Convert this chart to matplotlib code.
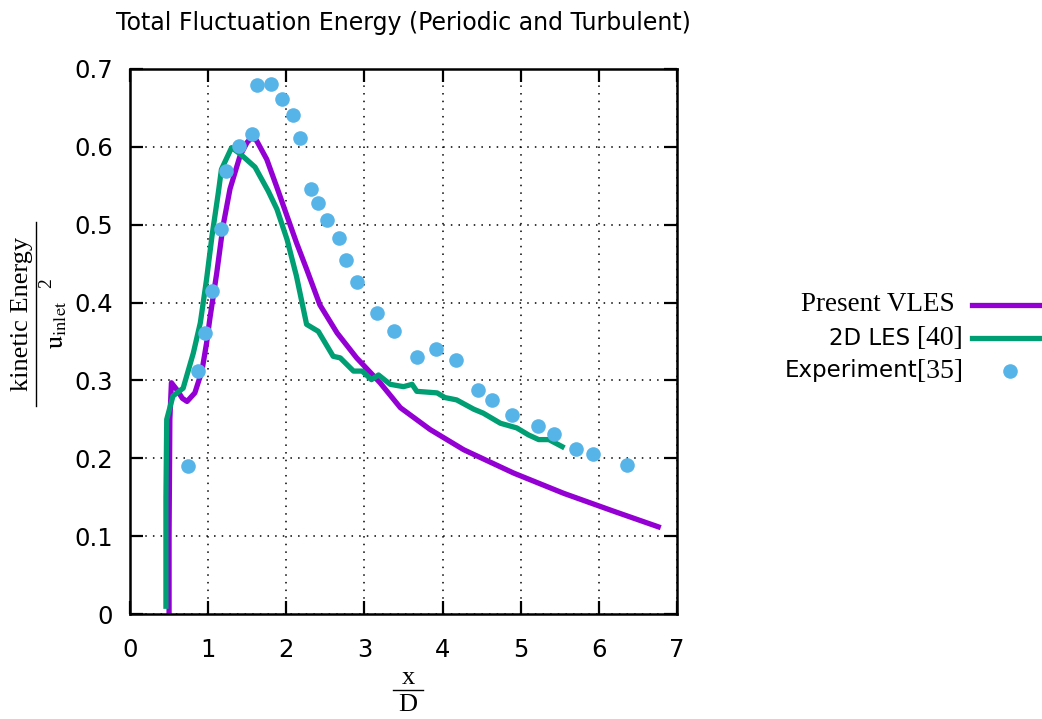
import matplotlib
matplotlib.use("Agg")
import matplotlib.pyplot as plt
from matplotlib.lines import Line2D
import numpy as np

plt.rcParams["mathtext.fontset"] = "stix"

# Present VLES
vles_x = [0.50, 0.50, 0.51, 0.53, 0.60, 0.67, 0.73, 0.83, 0.92, 0.98, 1.02, 1.11, 1.19,
          1.28, 1.41, 1.50, 1.56, 1.62, 1.75, 1.88, 2.01, 2.13, 2.26, 2.43, 2.65, 2.90,
          3.20, 3.46, 3.84, 4.27, 4.91, 5.55, 6.19, 6.76]
vles_y = [0.0, 0.10, 0.25, 0.297, 0.288, 0.277, 0.273, 0.284, 0.312, 0.348, 0.378, 0.438, 0.498,
          0.546, 0.589, 0.606, 0.612, 0.608, 0.584, 0.548, 0.511, 0.477, 0.443, 0.397, 0.361, 0.329,
          0.297, 0.265, 0.237, 0.211, 0.181, 0.155, 0.132, 0.112]

# 2D LES [40]
les_x = [0.46, 0.46, 0.47, 0.55, 0.68, 0.81, 0.90, 0.98, 1.05, 1.13, 1.17, 1.30, 1.41,
         1.60, 1.77, 1.88, 2.01, 2.13, 2.26, 2.41, 2.60, 2.69, 2.86, 2.97, 3.09, 3.18,
         3.33, 3.50, 3.61, 3.67, 3.93, 4.03, 4.18, 4.40, 4.52, 4.74, 4.95, 5.10, 5.23,
         5.36, 5.53]
les_y = [0.01, 0.15, 0.25, 0.28, 0.29, 0.335, 0.374, 0.43, 0.486, 0.541, 0.571, 0.599, 0.591,
         0.574, 0.543, 0.520, 0.481, 0.434, 0.372, 0.363, 0.331, 0.329, 0.312, 0.312, 0.301, 0.307,
         0.295, 0.292, 0.295, 0.286, 0.284, 0.278, 0.275, 0.263, 0.258, 0.245, 0.239, 0.230, 0.224,
         0.224, 0.215]

# Experiment [35]
exp_x = [0.74, 0.87, 0.96, 1.05, 1.17, 1.23, 1.40, 1.56, 1.62, 1.80, 1.94, 2.09, 2.18,
         2.31, 2.40, 2.52, 2.68, 2.77, 2.90, 3.16, 3.38, 3.67, 3.91, 4.17, 4.45, 4.63,
         4.89, 5.22, 5.43, 5.71, 5.93, 6.36]
exp_y = [0.190, 0.312, 0.361, 0.415, 0.494, 0.569, 0.601, 0.616, 0.680, 0.681, 0.661, 0.641, 0.612,
         0.546, 0.528, 0.506, 0.483, 0.455, 0.426, 0.387, 0.363, 0.330, 0.341, 0.326, 0.288, 0.275,
         0.255, 0.241, 0.231, 0.212, 0.206, 0.192]

x_ticks = [0, 1, 2, 3, 4, 5, 6, 7]
y_ticks = [0, 0.1, 0.2, 0.3, 0.4, 0.5, 0.6, 0.7]
y_tick_labels = ["0", "0.1", "0.2", "0.3", "0.4", "0.5", "0.6", "0.7"]

purple = "#9400d3"
green = "#009e73"
blue = "#56b4e9"
lw = 3.8
ms = 10.5

W, H = 1042, 719
fig = plt.figure(figsize=(W / 100, H / 100), dpi=100)
ax = fig.add_axes([130 / W, 1 - 614 / H, (677 - 130) / W, (614 - 69) / H])

ax.plot(vles_x, vles_y, color=purple, lw=lw, solid_joinstyle="round")
ax.plot(les_x, les_y, color=green, lw=lw, solid_joinstyle="round")
ax.plot(exp_x, exp_y, "o", color=blue, ms=ms, mec="none")

ax.set_xlim(0, 7)
ax.set_ylim(0, 0.7)
ax.set_xticks(x_ticks)
ax.set_yticks(y_ticks)
ax.set_yticklabels(y_tick_labels)
ax.grid(True, color="black", linestyle=(0, (1, 4)), linewidth=1.1)
ax.tick_params(direction="in", length=9.5, width=1.6, top=True, right=True,
               labelsize=17.5)
ax.tick_params(axis="x", pad=17)
ax.tick_params(axis="y", pad=12)
for s in ax.spines.values():
    s.set_linewidth(1.8)

ax.set_title("Total Fluctuation Energy (Periodic and Turbulent)", fontsize=17, pad=28)

serif = "Liberation Serif"

# x label: x / D
cx = 408 / W
fig.text(cx, 1 - 678 / H, "x", family=serif, fontsize=19, ha="center", va="center")
fig.add_artist(Line2D([cx - 15 / W, cx + 15 / W], [1 - 690 / H, 1 - 690 / H], color="black", lw=1))
fig.text(cx, 1 - 705 / H, "D", family=serif, fontsize=19, ha="center", va="center")

# y label: kinetic Energy / u_inlet^2
fy = 1 - 314 / H
fig.add_artist(Line2D([36 / W, 36 / W], [fy - 92 / H, fy + 92 / H], color="black", lw=1))
fig.text(22 / W, fy, "kinetic Energy", family=serif, fontsize=19, rotation=90,
         ha="center", va="center")
fig.text(56 / W, 1 - 325 / H, r"$\mathrm{u}_{\mathrm{inlet}}$", fontsize=19, rotation=90,
         ha="center", va="center")
fig.text(47 / W, 1 - 283 / H, "2", family=serif, fontsize=14, rotation=90,
         ha="center", va="center")

# legend, text right-aligned with the sample after it
rx = 963 / W
renderer = fig.canvas.get_renderer()
fig.text(955 / W, 1 - 305 / H, "Present VLES", family=serif, fontsize=19.5, ha="right", va="center")
for yy, sans_part, serif_part in [(338, "2D LES ", "[40]"), (371, "Experiment", "[35]")]:
    t = fig.text(rx, 1 - yy / H, serif_part, family=serif, fontsize=20, ha="right", va="center")
    bb = t.get_window_extent(renderer)
    fig.text(bb.x0 / W, 1 - yy / H, sans_part, fontsize=16.5, ha="right", va="center")

fig.add_artist(Line2D([972 / W, 1042 / W], [1 - 305 / H, 1 - 305 / H], color=purple, lw=lw))
fig.add_artist(Line2D([972 / W, 1042 / W], [1 - 338 / H, 1 - 338 / H], color=green, lw=lw))
fig.add_artist(Line2D([1010 / W], [1 - 371 / H], marker="o", color=blue, ms=ms, mec="none"))

fig.savefig("out.png", dpi=100)
